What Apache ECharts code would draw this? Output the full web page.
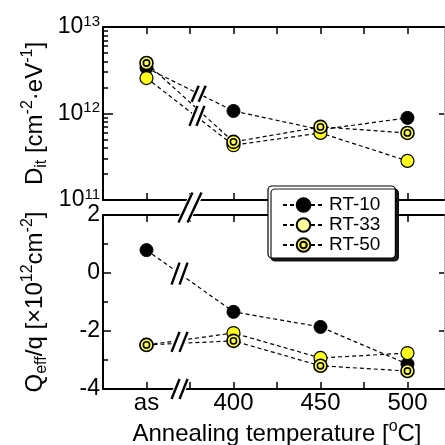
<!DOCTYPE html>
<html><head><meta charset="utf-8">
<script src="https://cdn.jsdelivr.net/npm/echarts@6/dist/echarts.min.js"></script>
<style>html,body{margin:0;padding:0;background:#fff}#c{width:445px;height:445px}</style>
</head><body><div id="c"></div><script>
// ---- data ----
const categories = ['as', '400', '450', '500'];
const xPos = [0, 1, 2, 3];
const xTickVals = [0, 0.5, 1, 1.5, 2, 2.5, 3];
const ditRT10 = [3.36e12, 1.07e12, 6.5e11, 8.9e11];
const ditRT33 = [2.57e12, 4.3e11, 5.96e11, 2.83e11];
const ditRT50 = [3.84e12, 4.7e11, 7.0e11, 5.96e11];
const qRT10 = [0.79, -1.34, -1.86, -3.14];
const qRT33 = [-2.48, -2.07, -2.93, -2.76];
const qRT50 = [-2.48, -2.34, -3.20, -3.38];
const ditMinorTicks = [2e11, 3e11, 4e11, 5e11, 6e11, 7e11, 8e11, 9e11, 2e12, 3e12, 4e12, 5e12, 6e12, 7e12, 8e12, 9e12];
const ditRightTicks = [1e12];
const qRightTicks = [0, -2];

const FONT = '"Liberation Sans", Arial, Helvetica, sans-serif';
const chart = echarts.init(document.getElementById('c'));
const bullseye = 'path://M0,-10A10,10,0,1,1,0,10A10,10,0,1,1,0,-10ZM0,-4.8A4.8,4.8,0,1,1,0,4.8A4.8,4.8,0,1,1,0,-4.8Z';
const styles = {
  'RT-10': {symbol: 'circle', color: '#000000', bw: 1},
  'RT-33': {symbol: 'circle', color: '#ffff1a', bw: 1.2},
  'RT-50': {symbol: bullseye, color: '#ffff55', bw: 1.6}
};
function ln(name, vals, xi, yi) {
  const s = styles[name];
  return {
    type: 'line', name, xAxisIndex: xi, yAxisIndex: yi,
    data: vals.map((v, i) => [xPos[i], v]),
    symbol: s.symbol, symbolSize: 13,
    itemStyle: {color: s.color, borderColor: '#000', borderWidth: s.bw},
    lineStyle: {color: '#000', width: 1.2, type: [4, 3]},
    emphasis: {disabled: true}, z: 3
  };
}
function xAx(grid, pos, labels) {
  return {
    type: 'value', gridIndex: grid, position: pos, min: -0.5, max: 3.42,
    axisLine: {show: true, onZero: false, lineStyle: {color: '#000', width: 2}},
    axisTick: {show: true, inside: true, length: 7, customValues: xTickVals, lineStyle: {color: '#000', width: 1.5}},
    axisLabel: {show: labels, customValues: xPos, formatter: v => categories[Math.round(v)],
      fontSize: 24, fontFamily: FONT, color: '#000', margin: 2},
    splitLine: {show: false}
  };
}
const lg10 = v => Math.log10(v);
const option = {
  animation: false,
  backgroundColor: '#fff',
  grid: [
    {left: 103, top: 27, width: 341, height: 173},
    {left: 103, top: 215, width: 341, height: 174}
  ],
  xAxis: [xAx(0, 'bottom', false), xAx(0, 'top', false), xAx(1, 'bottom', true), xAx(1, 'top', false)],
  yAxis: [
    {type: 'log', logBase: 10, gridIndex: 0, position: 'left', min: 1e11, max: 1e13,
      axisLine: {show: true, onZero: false, lineStyle: {color: '#000', width: 2}},
      axisTick: {show: true, inside: true, length: 10, lineStyle: {color: '#000', width: 1.5}},
      axisLabel: {formatter: v => '10{s|' + Math.round(Math.log10(v)) + '}', fontSize: 23, fontFamily: FONT,
        color: '#000', margin: 3, lineHeight: 26, showMinLabel: true, showMaxLabel: true,
        rich: {s: {fontSize: 15, fontFamily: FONT, color: '#000', verticalAlign: 'top', lineHeight: 16}}},
      splitLine: {show: false}},
    {type: 'value', gridIndex: 0, position: 'left', min: 11, max: 13,
      axisLine: {show: false, onZero: false}, axisLabel: {show: false}, splitLine: {show: false},
      axisTick: {show: true, inside: true, length: 5, customValues: ditMinorTicks.map(lg10), lineStyle: {color: '#000', width: 1.5}}},
    {type: 'value', gridIndex: 0, position: 'right', min: 11, max: 13,
      axisLine: {show: true, onZero: false, lineStyle: {color: '#aaa', width: 1, type: 'dotted'}},
      axisLabel: {show: false}, splitLine: {show: false},
      axisTick: {show: true, inside: true, length: 5, customValues: ditRightTicks.map(lg10), lineStyle: {color: '#000', width: 1.5}}},
    {type: 'value', gridIndex: 1, position: 'left', min: -4, max: 2, interval: 2,
      axisLine: {show: true, onZero: false, lineStyle: {color: '#000', width: 2}},
      axisTick: {show: true, inside: true, length: 8, lineStyle: {color: '#000', width: 1.5}},
      minorTick: {show: true, splitNumber: 2, length: 5, lineStyle: {color: '#000', width: 1.5}},
      axisLabel: {fontSize: 23, fontFamily: FONT, color: '#000', margin: 3, showMinLabel: true, showMaxLabel: true},
      splitLine: {show: false}, minorSplitLine: {show: false}},
    {type: 'value', gridIndex: 1, position: 'right', min: -4, max: 2,
      axisLine: {show: true, onZero: false, lineStyle: {color: '#aaa', width: 1, type: 'dotted'}},
      axisLabel: {show: false}, splitLine: {show: false},
      axisTick: {show: true, inside: true, length: 5, customValues: qRightTicks, lineStyle: {color: '#000', width: 1.5}}}
  ],
  legend: {
    left: 268, top: 186, orient: 'vertical', itemWidth: 41, itemHeight: 17, itemGap: 0,
    padding: [9, 15, 3, 14], backgroundColor: '#fff', borderColor: '#000', borderWidth: 1.2, borderRadius: 4,
    shadowColor: 'rgba(0,0,0,0.9)', shadowOffsetX: 3, shadowOffsetY: 3, shadowBlur: 0,
    textStyle: {fontSize: 19, fontFamily: FONT, color: '#000', lineHeight: 20},
    selectedMode: false, z: 20,
    data: [{name: 'RT-10'}, {name: 'RT-33', itemStyle: {color: '#ffff99'}}, {name: 'RT-50'}]
  },
  series: [
    ln('RT-10', ditRT10, 0, 0), ln('RT-33', ditRT33, 0, 0), ln('RT-50', ditRT50, 0, 0),
    ln('RT-10', qRT10, 2, 3), ln('RT-33', qRT33, 2, 3), ln('RT-50', qRT50, 2, 3)
  ]
};
chart.setOption(option);

// ---- decorations: axis titles and break marks ----
function px(xi, yi, x, y) { return chart.convertToPixel({xAxisIndex: xi, yAxisIndex: yi}, [x, y]); }
function along(xi, yi, arr, t) {
  const a = px(xi, yi, xPos[0], arr[0]), b = px(xi, yi, xPos[1], arr[1]);
  return [a[0] + (b[0] - a[0]) * t, a[1] + (b[1] - a[1]) * t];
}
function mid(p, q) { return [(p[0] + q[0]) / 2, (p[1] + q[1]) / 2]; }
function brk(c, h, sep, slant) {
  const [cx, cy] = c, els = [];
  const hw = sep / 2 + 2.5;
  els.push({type: 'polygon', z: 50, shape: {points: [
    [cx - hw - slant / 2, cy + h / 2 - 1], [cx + hw - slant / 2, cy + h / 2 - 1],
    [cx + hw + slant / 2, cy - h / 2 + 1], [cx - hw + slant / 2, cy - h / 2 + 1]]},
    style: {fill: '#fff'}});
  for (const o of [-sep / 2, sep / 2]) {
    els.push({type: 'line', z: 51, shape: {x1: cx + o - slant / 2, y1: cy + h / 2, x2: cx + o + slant / 2, y2: cy - h / 2},
      style: {stroke: '#000', lineWidth: 2.4}});
  }
  return els;
}
const sup = {fontSize: 16, fontFamily: FONT, fill: '#000', verticalAlign: 'top', lineHeight: 17};
const sub = {fontSize: 16, fontFamily: FONT, fill: '#000', verticalAlign: 'bottom', lineHeight: 17};
const mainT = {fontSize: 24, fontFamily: FONT, fill: '#000', lineHeight: 30};
function title(x, y, rot, text) {
  return {type: 'text', x, y, rotation: rot, z: 30,
    style: {text, rich: {m: mainT, sp: sup, sb: sub}, align: 'center', verticalAlign: 'middle', fontFamily: FONT, fontSize: 24, fill: '#000'}};
}
const g0top = px(0, 0, 0, 1e13), g0bot = px(0, 0, 0, 1e11);
const g1top = px(2, 3, 0, 2), g1bot = px(2, 3, 0, -4);
const midAxis = [px(0, 0, 0.5, 1e11)[0], (g0bot[1] + g1top[1]) / 2];
const graphics = [
  title(35, (g0top[1] + g0bot[1]) / 2, Math.PI / 2, '{m|D}{sb|it}{m| [cm}{sp|-2}{m|·eV}{sp|-1}{m|]}'),
  title(35, (g1top[1] + g1bot[1]) / 2, Math.PI / 2, '{m|Q}{sb|eff}{m|/q [×10}{sp|12}{m|cm}{sp|-2}{m|]}'),
  title(277, 434, 0, '{m|Annealing temperature [}{sp|o}{m|C]}'),
  ...brk(along(0, 0, ditRT10, 0.6), 16, 7, 7),
  ...brk((() => { const m = mid(along(0, 0, ditRT33, 0.58), along(0, 0, ditRT50, 0.58)); return [m[0], m[1] + 3]; })(), 20, 7, 8),
  ...brk(along(2, 3, qRT10, 0.38), 22, 8, 8),
  ...brk(mid(along(2, 3, qRT33, 0.38), along(2, 3, qRT50, 0.38)), 20, 8, 8),
  ...brk(midAxis, 30, 9, 14),
  ...brk([px(2, 3, 0.38, -4)[0], g1bot[1]], 20, 8, 8)
];
chart.setOption({graphic: graphics});
</script></body></html>
